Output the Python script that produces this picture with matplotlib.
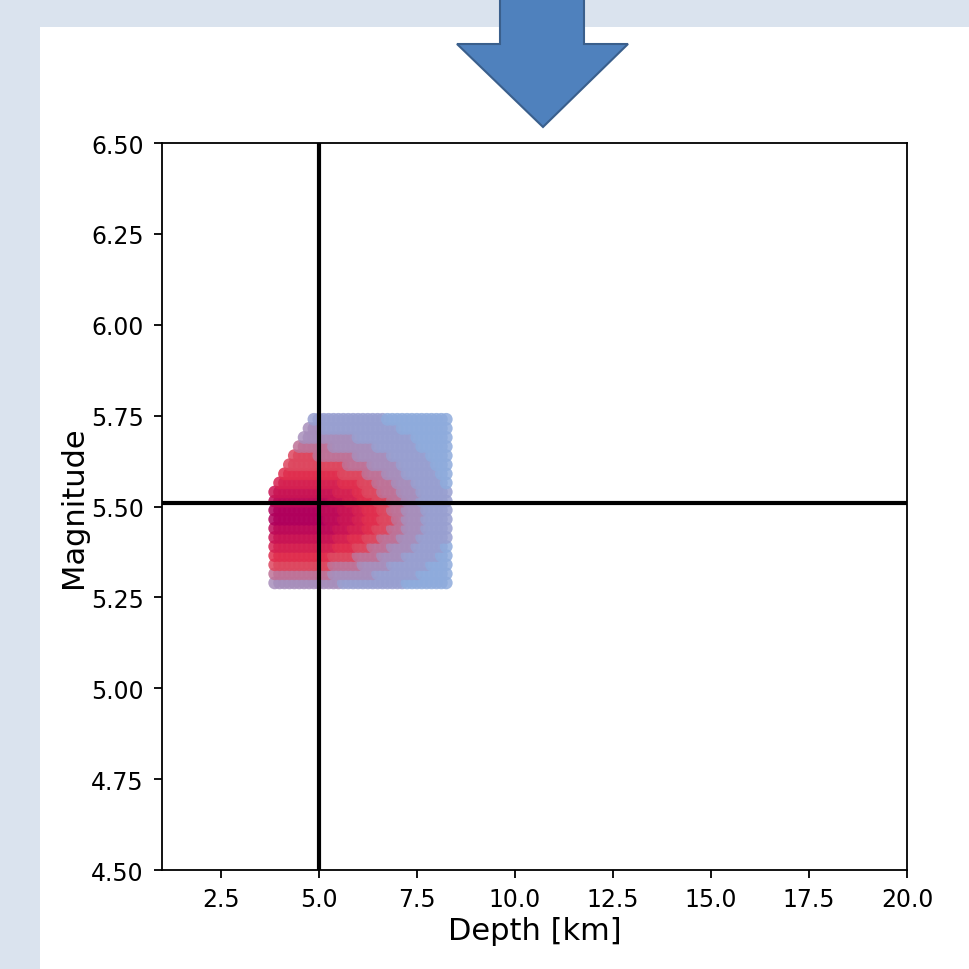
import matplotlib
matplotlib.use("Agg")
import matplotlib.pyplot as plt
from matplotlib.colors import LinearSegmentedColormap
from matplotlib.patches import Rectangle, Polygon

# Grid of the search (depth in km, magnitude)
depths = [3.875, 4.0, 4.125, 4.25, 4.375, 4.5, 4.625, 4.75, 4.875, 5.0,
          5.125, 5.25, 5.375, 5.5, 5.625, 5.75, 5.875, 6.0, 6.125, 6.25,
          6.375, 6.5, 6.625, 6.75, 6.875, 7.0, 7.125, 7.25, 7.375, 7.5,
          7.625, 7.75, 7.875, 8.0, 8.125, 8.25]
magnitudes = [5.29, 5.315, 5.34, 5.365, 5.39, 5.415, 5.44, 5.465, 5.49, 5.515,
              5.54, 5.565, 5.59, 5.615, 5.64, 5.665, 5.69, 5.715, 5.74]

# Fit level per grid point (0 = poor, 9 = best), bottom row first, '.' = not computed
fit_rows = [
    "222222222222221111111111111000000000",
    "333333333333222222222111111111000000",
    "444444444444333333222222111111110000",
    "555555555555444443333322222111111100",
    "666666666666655554443333222221111110",
    "777777777777766655544433332222111111",
    "888888888888877766655444333222211111",
    "999999999998887776655544433222211111",
    "999999999988887776655544333222211111",
    "888888888888777666555444333222111111",
    "777777777777766665544433332222111111",
    ".66666666666665555444333322221111110",
    "..5555555555554444433332222111111100",
    "...444444444444333332222221111111000",
    "....44444333333332222222111111110000",
    ".....3333333222222222111111111000000",
    "......222222222221111111111110000000",
    ".......22211111111111111110000000000",
    "........1111111111111110000000000000",
]

best_depth = 5.0
best_magnitude = 5.51

x_ticks = [2.5, 5.0, 7.5, 10.0, 12.5, 15.0, 17.5, 20.0]
y_ticks = [4.5, 4.75, 5.0, 5.25, 5.5, 5.75, 6.0, 6.25, 6.5]

# collect the points
xs, ys, cs = [], [], []
for mag, row in zip(magnitudes, fit_rows):
    for i, ch in enumerate(row):
        if ch == ".":
            continue
        xs.append(depths[i])
        ys.append(mag)
        cs.append(int(ch))

cmap = LinearSegmentedColormap.from_list(
    "fit", [(0.0, "#8eabdc"), (0.15, "#9c9bcb"), (0.3, "#b47fa8"),
            (0.48, "#e8384c"), (0.72, "#d01a52"), (1.0, "#b0005c")])

fig = plt.figure(figsize=(9.7, 9.7), dpi=100)
fig.patch.set_facecolor("#dae3ee")

# white slide panel
fig.add_artist(Rectangle((40 / 970, 0), 1, 1 - 28 / 970, transform=fig.transFigure,
                         facecolor="white", edgecolor="none", zorder=0))

ax = fig.add_axes([0.167, 0.102, 0.768, 0.7495])
ax.scatter(xs, ys, c=cs, cmap=cmap, vmin=0, vmax=9, s=85, alpha=0.85, linewidths=0)
ax.axvline(best_depth, color="black", lw=3)
ax.axhline(best_magnitude, color="black", lw=3)

ax.set_xlim(1, 20)
ax.set_ylim(4.5, 6.5)
ax.set_xticks(x_ticks)
ax.set_xticklabels([f"{v:.1f}" for v in x_ticks])
ax.set_yticks(y_ticks)
ax.set_yticklabels([f"{v:.2f}" for v in y_ticks])
ax.tick_params(labelsize=17, length=6, width=1.3)
ax.tick_params(axis="y", pad=7)
ax.tick_params(axis="x", pad=6)
for sp in ax.spines.values():
    sp.set_linewidth(1.3)
ax.set_xlabel("Depth [km]", fontsize=22)
ax.set_ylabel("Magnitude", fontsize=22, labelpad=2)

# blue arrow pointing down at the plot
arrow_px = [(500, -5), (584, -5), (584, 45), (628, 45), (543, 128), (457, 45), (500, 45)]
arrow = Polygon([(x / 970, 1 - y / 970) for x, y in arrow_px], closed=True,
                transform=fig.transFigure, facecolor="#4f81bd",
                edgecolor="#3a5f8c", lw=1.5, zorder=5)
fig.add_artist(arrow)

fig.savefig("out.png", dpi=100, facecolor=fig.get_facecolor())
